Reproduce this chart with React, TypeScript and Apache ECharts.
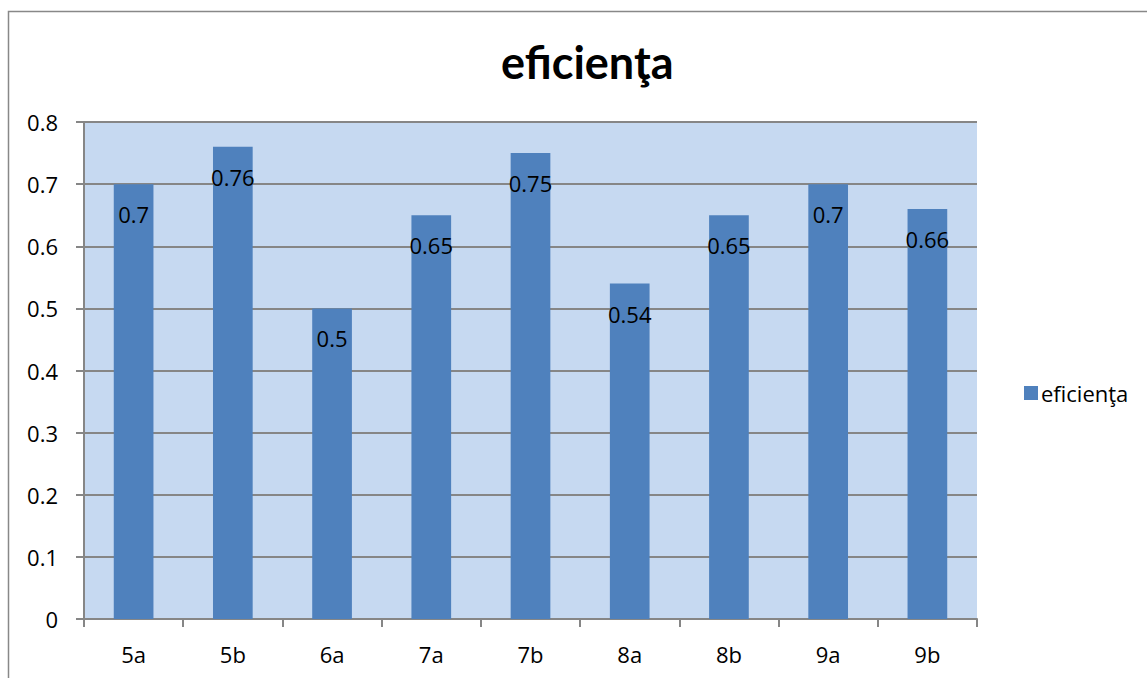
import React, { useEffect, useRef } from "react";
import * as echarts from "echarts";

const categories = ["5a", "5b", "6a", "7a", "7b", "8a", "8b", "9a", "9b"];
const values = [0.7, 0.76, 0.5, 0.65, 0.75, 0.54, 0.65, 0.7, 0.66];
const seriesName = "eficienţa";
const titleText = "eficienţa";

export default function App() {
  const ref = useRef<HTMLDivElement>(null);
  useEffect(() => {
    const chart = echarts.init(ref.current!, null, { renderer: "svg" });
    const font = "'Open Sans', sans-serif";
    chart.setOption({
      animation: false,
      backgroundColor: "#ffffff",
      textStyle: { fontFamily: font },
      title: {
        text: titleText,
        left: 496,
        top: 34,
        textStyle: { fontFamily: "Lato, 'Open Sans', sans-serif", fontWeight: "bold", fontSize: 45, color: "#000" },
      },
      legend: {
        data: [seriesName],
        orient: "vertical",
        left: 1019,
        top: 377,
        itemWidth: 14,
        itemHeight: 14,
        itemGap: 6,
        icon: "rect",
        textStyle: { fontFamily: font, fontSize: 22, color: "#000", padding: [0, 0, 0, -2] },
      },
      graphic: [
        {
          type: "rect",
          shape: { x: 8.5, y: 11.5, width: 1200, height: 800 },
          style: { fill: "none", stroke: "#888888", lineWidth: 1.5 },
          silent: true,
          z: -10,
        },
      ],
      grid: {
        left: 84,
        right: 170,
        top: 122,
        bottom: 59,
        show: true,
        backgroundColor: "#C6D9F1",
        borderWidth: 0,
      },
      xAxis: {
        type: "category",
        data: categories,
        axisLine: { show: true, lineStyle: { color: "#868686", width: 2 } },
        axisTick: { show: true, length: 8, alignWithLabel: false, lineStyle: { color: "#868686", width: 2 } },
        axisLabel: { fontFamily: font, fontSize: 22, color: "#000", margin: 24 },
        splitLine: { show: false },
      },
      yAxis: {
        type: "value",
        min: 0,
        max: 0.8,
        interval: 0.1,
        axisLine: { show: true, lineStyle: { color: "#868686", width: 2 } },
        axisTick: { show: true, length: 8, lineStyle: { color: "#868686", width: 2 } },
        axisLabel: { fontFamily: font, fontSize: 22, color: "#000", margin: 26 },
        splitLine: { show: true, lineStyle: { color: "#868686", width: 2 } },
      },
      series: [
        {
          name: seriesName,
          type: "bar",
          data: values,
          barWidth: "40%",
          itemStyle: { color: "#4F81BD" },
          label: {
            show: true,
            position: "insideTop",
            distance: 18,
            fontFamily: font,
            fontSize: 22,
            lineHeight: 24,
            color: "#000",
          },
        },
      ],
    });
    return () => chart.dispose();
  }, []);
  return <div ref={ref} style={{ width: 1147, height: 678, position: "absolute", left: 0, top: 0 }} />;
}
